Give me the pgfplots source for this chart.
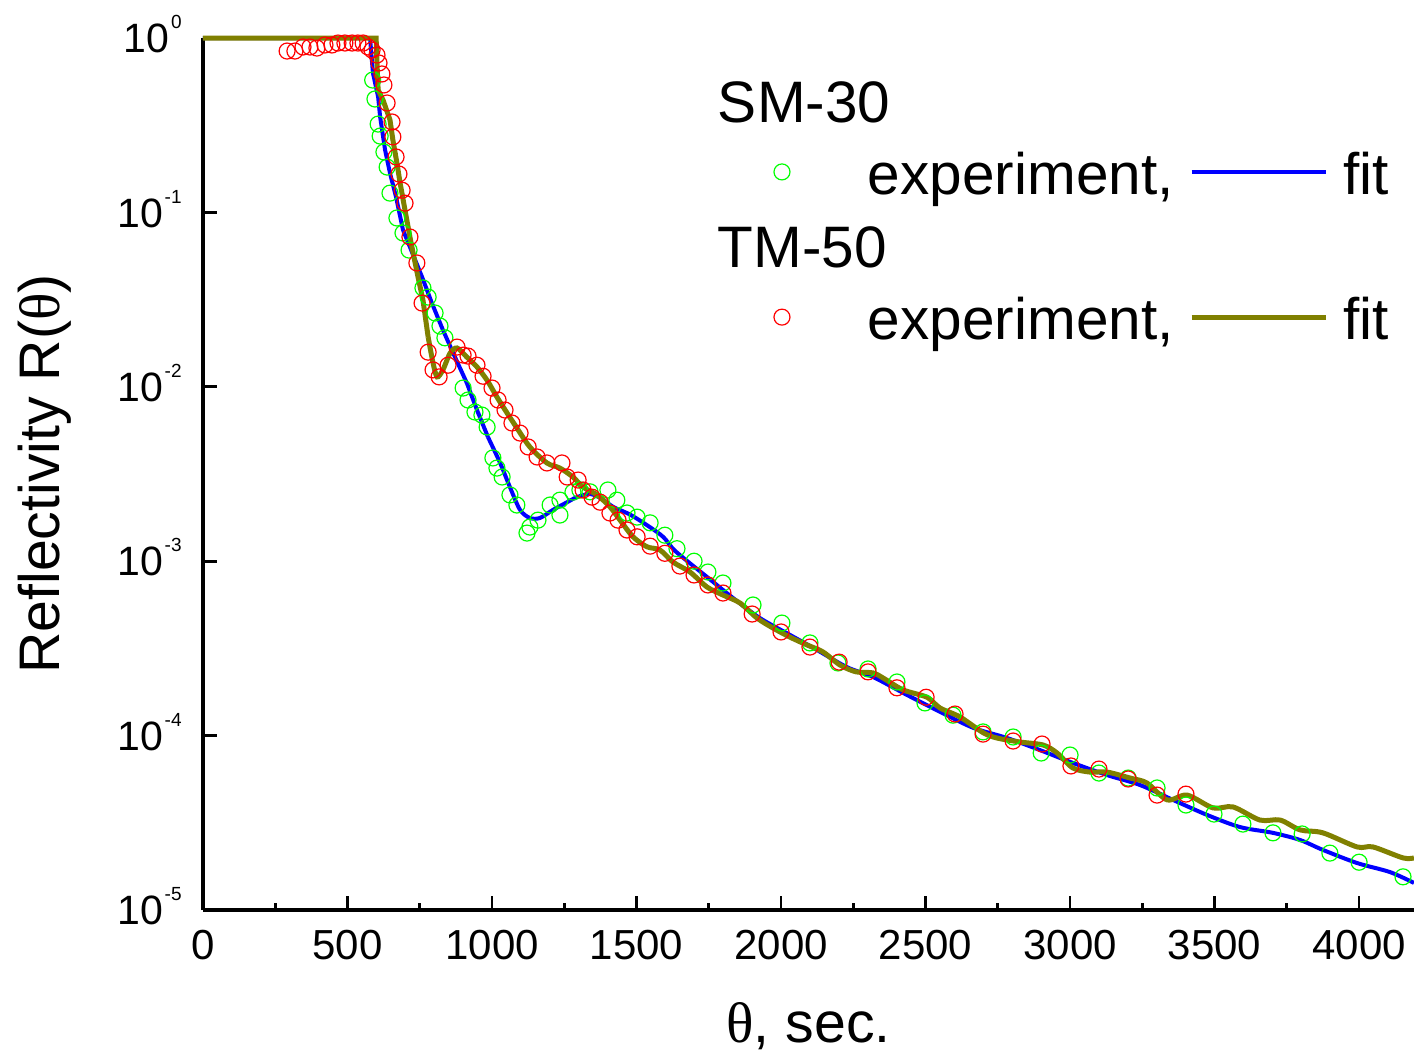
\documentclass[border=0pt]{standalone}
\usepackage{fontspec}
\setmainfont{Liberation Sans}
\newfontfamily\serifgr{Liberation Serif}
\usepackage{pgfplots}
\pgfplotsset{compat=1.18}
\definecolor{cgreen}{RGB}{0,255,0}
\definecolor{cred}{RGB}{255,0,0}
\definecolor{cblue}{RGB}{0,0,255}
\definecolor{colive}{RGB}{128,128,0}
\newcommand\tpow[1]{10\kern0.8pt\raisebox{12pt}{\fontsize{9.5}{11}\selectfont #1}}
\begin{document}
\begin{tikzpicture}
\begin{axis}[name=ax, at={(0,0)}, anchor=south west,
  scale only axis, width=605.5pt, height=436pt,
  xmin=0, xmax=4190, ymode=log, log basis y=10, ymin=1e-5, ymax=1,
  axis x line*=bottom, axis y line*=left,
  axis line style={line width=1.6pt, black},
  tick align=inside,
  major tick length=7pt, minor tick length=3.5pt,
  every tick/.style={black, line width=1.4pt},
  xtick={0,500,...,4000}, minor x tick num=1,
  ytick={1e-5,1e-4,1e-3,1e-2,1e-1,1},
  yticklabels={\tpow{-5},\tpow{-4},\tpow{-3},\tpow{-2},\tpow{-1},\tpow{0}},
  /pgf/number format/assume math mode=true,
  /pgf/number format/1000 sep={},
  xticklabel style={font=\fontsize{21}{25}\selectfont, anchor=north, inner sep=0pt, yshift=-10pt},
  yticklabel style={font=\fontsize{20.5}{24}\selectfont, anchor=base east, inner sep=0pt, xshift=-10.5pt, yshift=-7.3pt},
  xlabel={{\serifgr θ}, sec.},
  ylabel={Reflectivity R({\serifgr θ})},
  xlabel style={font=\fontsize{28.6}{32}\selectfont, at={(axis description cs:0.5,-0.1514)}, anchor=base},
  ylabel style={font=\fontsize{28.6}{32}\selectfont, at={(axis description cs:-0.1181,0.5)}, anchor=base, rotate=0},
  clip=false,
  legend columns=2,
  legend cell align=left,
  legend style={at={(axis description cs:0.4715,0.9516)}, anchor=north west,
    draw=none, fill=none, inner sep=0pt, outer sep=0pt,
    font=\fontsize{29.25}{33}\selectfont,
    column sep=0pt, row sep=9.2pt,
    nodes={inner sep=0pt, text height=20.9pt, text depth=6.2pt}},
]
\addlegendimage{empty legend}
\addlegendentry{\hspace*{-75pt}SM-30}
\addlegendimage{empty legend}
\addlegendentry{}
\addlegendimage{legend image code/.code={\path[draw=none] (-4pt,0pt) -- (43pt,0pt); \draw[cgreen, line width=0.6pt] plot[only marks, mark=o, mark size=4pt] coordinates {(0pt,4pt)};}}
\addlegendentry{experiment,}
\addlegendimage{legend image code/.code={\path[draw=none] (0pt,0pt) -- (85pt,0pt); \draw[cblue, line width=2pt] (9pt,4pt) -- (76pt,4pt);}}
\addlegendentry{fit}
\addlegendimage{empty legend}
\addlegendentry{\hspace*{-75pt}TM-50}
\addlegendimage{empty legend}
\addlegendentry{}
\addlegendimage{legend image code/.code={\path[draw=none] (-4pt,0pt) -- (43pt,0pt); \draw[cred, line width=0.6pt] plot[only marks, mark=o, mark size=4pt] coordinates {(0pt,4pt)};}}
\addlegendentry{experiment,}
\addlegendimage{legend image code/.code={\path[draw=none] (0pt,0pt) -- (85pt,0pt); \draw[colive, line width=2.5pt] (9pt,4pt) -- (76pt,4pt);}}
\addlegendentry{fit}

% SM-30 experiment
\addplot[forget plot, only marks, mark=o, mark size=4pt, cgreen, line width=0.6pt] table {
587 0.574
595 0.447
606 0.321
613 0.274
626 0.222
637 0.182
647 0.129
671 0.0929
692 0.0762
713 0.0608
761 0.0369
779 0.0327
803 0.0265
820 0.0223
837 0.0191
900 0.00984
917 0.00840
941 0.00717
965 0.00689
983 0.00588
1003 0.00391
1017 0.00342
1035 0.00304
1062 0.00240
1086 0.00210
1121 0.00145
1131 0.00157
1159 0.00172
1201 0.00210
1235 0.00184
1235 0.00224
1280 0.00249
1304 0.00256
1339 0.00250
1401 0.00256
1432 0.00224
1467 0.00189
1502 0.00179
1547 0.00166
1598 0.00141
1640 0.00118
1699 0.00100
1747 0.000867
1799 0.000750
1903 0.000561
2003 0.000442
2100 0.000340
2197 0.000261
2301 0.000241
2401 0.000203
2498 0.000154
2595 0.000131
2699 0.000105
2803 0.0000982
2900 0.0000795
3000 0.0000774
3100 0.0000610
3201 0.0000571
3301 0.0000501
3401 0.0000400
3498 0.0000355
3598 0.0000311
3702 0.0000277
3803 0.0000273
3899 0.0000212
4000 0.0000188
4152 0.0000155
};
% SM-30 fit
\addplot[forget plot, cblue, line width=2pt] table {
0 1
578 1
588 0.630
606 0.459
613 0.352
630 0.228
647 0.168
668 0.1225
692 0.0793
716 0.0633
758 0.0426
792 0.0302
830 0.0212
872 0.0148
913 0.0105
948 0.00736
986 0.00515
};
\addplot[forget plot, cblue, line width=2pt, smooth] table {
986 0.00515
1028 0.00366
1062 0.00266
1097 0.00197
1131 0.00177
1166 0.00177
1211 0.00197
1260 0.00218
1294 0.00233
1339 0.00243
1380 0.00228
1419 0.00205
1478 0.00185
1536 0.00161
1592 0.00138
1635 0.00114
1744 0.000812
1834 0.000615
1927 0.000472
2031 0.000378
2124 0.000310
2228 0.000247
2318 0.000217
2436 0.000171
2550 0.000137
2664 0.000111
2782 0.0000969
2896 0.0000826
3010 0.0000697
3128 0.0000594
3242 0.0000521
3356 0.0000428
3474 0.0000351
3588 0.0000299
3702 0.0000277
3796 0.0000252
3875 0.0000221
3993 0.0000186
4107 0.0000165
4190 0.0000143
};
% TM-50 experiment
\addplot[forget plot, only marks, mark=o, mark size=4pt, cred, line width=0.6pt] table {
291 0.842
318 0.842
346 0.888
370 0.888
394 0.876
422 0.912
446 0.912
467 0.936
491 0.936
516 0.936
536 0.936
554 0.936
571 0.888
585 0.853
602 0.799
609 0.719
619 0.622
626 0.538
637 0.424
654 0.330
657 0.271
668 0.208
678 0.166
689 0.134
699 0.113
716 0.0723
740 0.0513
758 0.0302
779 0.0158
796 0.0125
817 0.0114
848 0.0133
879 0.0169
900 0.0152
917 0.0150
948 0.0133
969 0.0115
1000 0.00984
1021 0.00840
1045 0.00736
1069 0.00620
1097 0.00543
1125 0.00452
1156 0.00396
1190 0.00366
1242 0.00366
1260 0.00304
1298 0.00292
1315 0.00256
1346 0.00233
1374 0.00218
1408 0.00189
1436 0.00172
1467 0.00151
1502 0.00138
1547 0.00122
1598 0.00111
1650 0.000938
1699 0.000834
1747 0.000731
1799 0.000657
1900 0.000498
2000 0.000393
2100 0.000322
2201 0.000264
2301 0.000232
2401 0.000188
2502 0.000166
2602 0.000133
2699 0.000102
2803 0.0000931
2903 0.0000895
3003 0.0000670
3100 0.0000643
3201 0.0000564
3301 0.0000456
3401 0.0000462
};
% TM-50 fit
\addplot[forget plot, colive, line width=2.5pt] table {
0 1
599 1
602 0.719
606 0.503
623 0.441
647 0.339
657 0.260
671 0.192
682 0.1475
699 0.103
716 0.0723
727 0.0585
744 0.0426
761 0.0315
779 0.0193
};
\addplot[forget plot, colive, line width=2.5pt, smooth] table {
779 0.0193
796 0.0137
810 0.0114
830 0.0125
855 0.0156
879 0.0167
913 0.0148
948 0.0130
983 0.0109
1017 0.00874
1052 0.00708
1086 0.00581
1131 0.00452
1190 0.00366
1235 0.00342
1280 0.00304
1315 0.00266
1363 0.00240
1408 0.00205
1443 0.00172
1488 0.00138
1536 0.00121
1581 0.00116
1626 0.000989
1685 0.000867
1744 0.000711
1799 0.000640
1858 0.000576
1917 0.000472
1972 0.000414
2031 0.000367
2090 0.000331
2145 0.000302
2204 0.000254
2260 0.000232
2318 0.000229
2353 0.000214
2422 0.000183
2505 0.000166
2550 0.000144
2619 0.000128
2699 0.000104
2747 0.0000969
2827 0.0000919
2907 0.0000883
2955 0.0000795
3010 0.0000652
3069 0.0000618
3128 0.0000618
3208 0.0000571
3266 0.0000535
3336 0.0000428
3405 0.0000456
3495 0.0000385
3564 0.0000390
3657 0.0000328
3727 0.0000328
3796 0.0000288
3875 0.0000277
3993 0.0000230
4048 0.0000230
4152 0.0000199
4190 0.0000199
};
\end{axis}
\pgfresetboundingbox
\useasboundingbox ([shift={(-101.5pt,-73.5pt)}]ax.south west) rectangle ([shift={(0pt,19pt)}]ax.north east);
\end{tikzpicture}
\end{document}
